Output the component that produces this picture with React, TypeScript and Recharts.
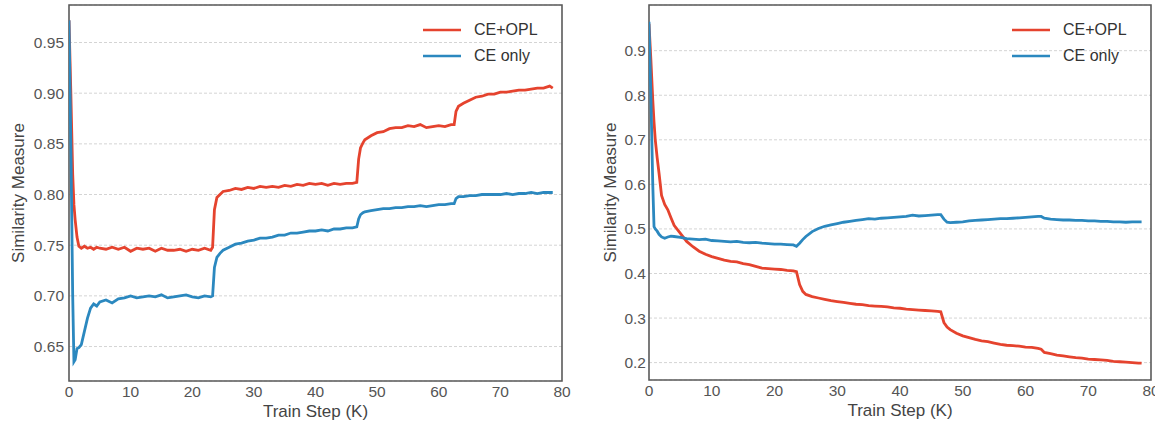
import React from 'react';
import { LineChart, Line, XAxis, YAxis, CartesianGrid, Legend, ReferenceArea, Label } from 'recharts';

const RED = '#E5432E';
const BLUE = '#2B88BF';
const FONT = '"Liberation Sans", Arial, Helvetica, sans-serif';
const TICK_COLOR = '#555555';
const FRAME = '#5a5a5a';

const SERIES_NAMES = ['CE+OPL', 'CE only'];
const X_TICKS = [0, 10, 20, 30, 40, 50, 60, 70, 80];
const LEFT_Y_TICKS = [0.65, 0.7, 0.75, 0.8, 0.85, 0.9, 0.95];
const RIGHT_Y_TICKS = [0.2, 0.3, 0.4, 0.5, 0.6, 0.7, 0.8, 0.9];
const LEFT_Y_DOMAIN = [0.616, 0.987];
const RIGHT_Y_DOMAIN = [0.161, 1.0025];

// Left panel
const L_STEPS = [0, 0.3, 0.6, 0.8, 1.0, 1.3, 1.6, 2, 2.5, 3, 3.5, 4, 4.5, 5, 6, 7, 8, 9, 10, 11, 12, 13, 14, 15, 16, 17, 18, 19, 20, 21, 22, 23, 23.3, 23.6, 24, 24.5, 25, 26, 27, 28, 29, 30, 31, 32, 33, 34, 35, 36, 37, 38, 39, 40, 41, 42, 43, 44, 45, 46, 46.7, 47, 47.3, 47.7, 48, 49, 50, 51, 52, 53, 54, 55, 56, 57, 58, 59, 60, 61, 62, 62.5, 62.8, 63.2, 64, 65, 66, 67, 68, 69, 70, 71, 72, 73, 74, 75, 76, 77, 78, 78.5];
const L_CE_OPL = [0.972, 0.9, 0.82, 0.79, 0.775, 0.758, 0.749, 0.747, 0.749, 0.747, 0.748, 0.746, 0.748, 0.747, 0.746, 0.748, 0.746, 0.748, 0.744, 0.747, 0.746, 0.747, 0.744, 0.747, 0.745, 0.745, 0.746, 0.744, 0.746, 0.745, 0.747, 0.745, 0.748, 0.785, 0.797, 0.8, 0.803, 0.804, 0.806, 0.805, 0.807, 0.806, 0.808, 0.807, 0.808, 0.807, 0.809, 0.808, 0.81, 0.809, 0.811, 0.81, 0.811, 0.809, 0.811, 0.81, 0.811, 0.811, 0.812, 0.835, 0.846, 0.851, 0.854, 0.858, 0.861, 0.862, 0.865, 0.866, 0.866, 0.868, 0.867, 0.869, 0.866, 0.867, 0.868, 0.867, 0.869, 0.869, 0.882, 0.887, 0.89, 0.893, 0.896, 0.897, 0.899, 0.899, 0.901, 0.901, 0.902, 0.903, 0.903, 0.904, 0.905, 0.905, 0.907, 0.905];
const L_CE_ONLY = [0.972, 0.85, 0.7, 0.635, 0.637, 0.648, 0.649, 0.652, 0.665, 0.678, 0.688, 0.692, 0.69, 0.694, 0.696, 0.693, 0.697, 0.698, 0.7, 0.698, 0.699, 0.7, 0.699, 0.701, 0.698, 0.699, 0.7, 0.701, 0.699, 0.698, 0.7, 0.699, 0.7, 0.728, 0.738, 0.742, 0.745, 0.748, 0.751, 0.752, 0.754, 0.755, 0.757, 0.757, 0.758, 0.76, 0.76, 0.762, 0.762, 0.763, 0.764, 0.764, 0.765, 0.764, 0.766, 0.766, 0.767, 0.767, 0.768, 0.776, 0.78, 0.782, 0.783, 0.784, 0.785, 0.786, 0.786, 0.787, 0.787, 0.788, 0.788, 0.789, 0.788, 0.789, 0.79, 0.79, 0.791, 0.791, 0.796, 0.798, 0.798, 0.799, 0.799, 0.8, 0.8, 0.8, 0.8, 0.801, 0.8, 0.801, 0.801, 0.802, 0.801, 0.802, 0.802, 0.802];

// Right panel
const R_STEPS = [0, 0.3, 0.6, 0.8, 1.0, 1.3, 1.6, 2, 2.5, 3, 3.5, 4, 5, 6, 7, 8, 9, 10, 11, 12, 13, 14, 15, 16, 17, 18, 19, 20, 21, 22, 23, 23.5, 24, 24.5, 25, 26, 27, 28, 29, 30, 31, 32, 33, 34, 35, 36, 37, 38, 39, 40, 41, 42, 43, 44, 45, 46, 46.5, 47, 47.5, 48, 49, 50, 51, 52, 53, 54, 55, 56, 57, 58, 59, 60, 61, 62, 62.5, 63, 64, 65, 66, 67, 68, 69, 70, 71, 72, 73, 74, 75, 76, 77, 78, 78.5];
const R_CE_OPL = [0.96, 0.88, 0.79, 0.74, 0.7, 0.66, 0.625, 0.575, 0.555, 0.543, 0.525, 0.508, 0.49, 0.472, 0.46, 0.45, 0.443, 0.438, 0.434, 0.43, 0.427, 0.426, 0.422, 0.42, 0.416, 0.412, 0.411, 0.41, 0.409, 0.407, 0.406, 0.404, 0.375, 0.36, 0.353, 0.348, 0.345, 0.342, 0.339, 0.337, 0.335, 0.333, 0.331, 0.33, 0.328, 0.327, 0.326, 0.325, 0.323, 0.322, 0.32, 0.319, 0.318, 0.317, 0.316, 0.315, 0.314, 0.29, 0.28, 0.274, 0.266, 0.26, 0.256, 0.252, 0.249, 0.247, 0.244, 0.241, 0.239, 0.238, 0.237, 0.235, 0.234, 0.232, 0.23, 0.223, 0.22, 0.217, 0.215, 0.213, 0.211, 0.21, 0.208, 0.207, 0.206, 0.205, 0.203, 0.202, 0.201, 0.2, 0.199, 0.199];
const R_CE_ONLY = [0.965, 0.8, 0.6, 0.505, 0.5, 0.495, 0.488, 0.482, 0.479, 0.482, 0.484, 0.483, 0.481, 0.478, 0.477, 0.476, 0.477, 0.474, 0.473, 0.472, 0.471, 0.472, 0.47, 0.469, 0.47, 0.468, 0.467, 0.466, 0.466, 0.465, 0.464, 0.461, 0.468, 0.476, 0.483, 0.494, 0.501, 0.506, 0.509, 0.512, 0.515, 0.517, 0.519, 0.521, 0.523, 0.522, 0.524, 0.525, 0.526, 0.527, 0.528, 0.531, 0.529, 0.53, 0.531, 0.532, 0.532, 0.522, 0.515, 0.514, 0.515, 0.516, 0.518, 0.519, 0.52, 0.521, 0.522, 0.523, 0.523, 0.524, 0.525, 0.526, 0.527, 0.528, 0.528, 0.524, 0.522, 0.521, 0.52, 0.52, 0.519, 0.519, 0.518, 0.518, 0.517, 0.517, 0.516, 0.516, 0.515, 0.516, 0.516, 0.516];

const buildRows = (steps: number[], a: number[], b: number[]) =>
  steps.map((s, i) => ({ step: s, opl: a[i], ce: b[i] }));

const LEFT_ROWS = buildRows(L_STEPS, L_CE_OPL, L_CE_ONLY);
const RIGHT_ROWS = buildRows(R_STEPS, R_CE_OPL, R_CE_ONLY);

const LegendContent = () => (
  <div style={{ fontFamily: FONT, fontSize: 16, color: '#333' }}>
    {[RED, BLUE].map((c, i) => (
      <div key={i} style={{ display: 'flex', alignItems: 'center', height: 26, whiteSpace: 'nowrap' }}>
        <svg width={38} height={4} style={{ marginRight: 13, display: 'block' }}>
          <line x1={0} y1={2} x2={38} y2={2} stroke={c} strokeWidth={2.6} />
        </svg>
        <span>{SERIES_NAMES[i]}</span>
      </div>
    ))}
  </div>
);

type PanelProps = {
  rows: any[];
  yTicks: number[];
  yDomain: number[];
  decimals: number;
  width: number;
  marginRight: number;
  plotBottom: number;
  yTickMargin: number;
  yLabelOffset: number;
  legendLeft: number;
};

const Panel = (p: PanelProps) => {
  const tickStyle = { fill: TICK_COLOR, fontSize: 15.5, fontFamily: FONT };
  return (
    <LineChart
      width={p.width}
      height={423}
      data={p.rows}
      margin={{ top: 5, right: p.marginRight, left: 0, bottom: 0 }}
    >
      <CartesianGrid vertical={false} stroke="#d4d4d4" strokeDasharray="3 2" strokeWidth={1} />
      <XAxis
        dataKey="step"
        type="number"
        domain={[0, 80]}
        ticks={X_TICKS}
        allowDataOverflow
        tickLine={false}
        axisLine={false}
        tickSize={0}
        tickMargin={5}
        height={423 - p.plotBottom}
        tick={tickStyle}
        interval={0}
      >
        <Label
          content={(lp: any) => {
            const vb = lp.viewBox || { x: 0, y: 0, width: 0, height: 0 };
            const cx = vb.x + vb.width / 2;
            const cy = vb.y + 30;
            return (
              <text x={cx} y={cy} textAnchor="middle" dominantBaseline="central" fill="#444" fontSize={17} fontFamily={FONT}>
                Train Step (K)
              </text>
            );
          }}
        />
      </XAxis>
      <YAxis
        type="number"
        domain={p.yDomain}
        ticks={p.yTicks}
        allowDataOverflow
        width={69}
        tickLine={false}
        axisLine={false}
        tickSize={0}
        tickMargin={p.yTickMargin}
        tick={tickStyle}
        interval={0}
        tickFormatter={(v: number) => v.toFixed(p.decimals)}
      >
        <Label
          content={(lp: any) => {
            const vb = lp.viewBox || { x: 0, y: 0, width: 0, height: 0 };
            const cx = vb.x + p.yLabelOffset;
            const cy = vb.y + vb.height / 2;
            return (
              <text
                x={cx}
                y={cy}
                transform={`rotate(-90 ${cx} ${cy})`}
                textAnchor="middle"
                dominantBaseline="central"
                fill="#444"
                fontSize={17}
                fontFamily={FONT}
              >
                Similarity Measure
              </text>
            );
          }}
        />
      </YAxis>
      <ReferenceArea
        x1={0}
        x2={80}
        y1={p.yDomain[0]}
        y2={p.yDomain[1]}
        fill="none"
        fillOpacity={0}
        stroke={FRAME}
        strokeWidth={1.6}
        ifOverflow="visible"
      />
      <Line dataKey="opl" name={SERIES_NAMES[0]} stroke={RED} strokeWidth={2.8} dot={false} isAnimationActive={false} />
      <Line dataKey="ce" name={SERIES_NAMES[1]} stroke={BLUE} strokeWidth={2.8} dot={false} isAnimationActive={false} />
      <Legend
        layout="horizontal"
        verticalAlign="middle"
        align="center"
        content={<LegendContent />}
        wrapperStyle={{ position: 'absolute', top: 17, left: p.legendLeft, width: 'auto', height: 'auto' }}
      />
    </LineChart>
  );
};

export default function App() {
  return (
    <div style={{ position: 'absolute', left: 0, top: 0, width: 1155, height: 423, background: '#fff', overflow: 'hidden' }}>
      <div style={{ position: 'absolute', left: 0, top: 0 }}>
        <Panel
          rows={LEFT_ROWS}
          yTicks={LEFT_Y_TICKS}
          yDomain={LEFT_Y_DOMAIN}
          decimals={2}
          width={575}
          marginRight={13}
          plotBottom={381}
          yTickMargin={5}
          yLabelOffset={18}
          legendLeft={423}
        />
      </div>
      <div style={{ position: 'absolute', left: 580, top: 0 }}>
        <Panel
          rows={RIGHT_ROWS}
          yTicks={RIGHT_Y_TICKS}
          yDomain={RIGHT_Y_DOMAIN}
          decimals={1}
          width={575}
          marginRight={4}
          plotBottom={380}
          yTickMargin={3}
          yLabelOffset={30}
          legendLeft={432}
        />
      </div>
    </div>
  );
}
